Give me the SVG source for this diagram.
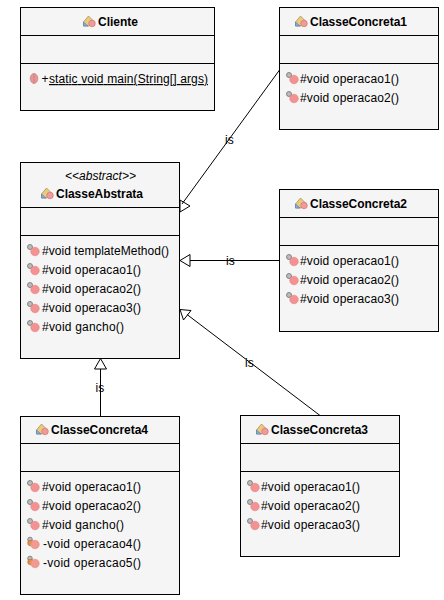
<svg xmlns="http://www.w3.org/2000/svg" width="444" height="600" viewBox="0 0 444 600">
<style>
text{font-family:"Liberation Sans",Arial,sans-serif;font-size:12px;fill:#000}
.t{font-weight:bold}
.a{font-style:italic}
.box{fill:#f5f5f5;stroke:#000;stroke-width:1}
.ln{stroke:#000;stroke-width:1;fill:none}
.h{fill:#fff;stroke:#000;stroke-width:1}
</style>
<defs>
<g id="ci">
<path d="M0.500 7L5.500 1L10.500 6L6 11H0.500Z" fill="#ecca7c" stroke="#9c8a58" stroke-width=".7"/>
<path d="M0.500 7L5 11H0.500Z" fill="#86aedc" stroke="#5f82b2" stroke-width=".7"/>
<circle cx="9" cy="8.500" r="3.300" fill="#f29a9a" stroke="#c07070" stroke-width=".6"/>
</g>
<g id="pr">
<circle cx="3" cy="3" r="2.500" fill="#bcbcbc" stroke="#707070" stroke-width=".8"/>
<circle cx="8" cy="7.500" r="4.300" fill="#f29292" stroke="#e27c7c" stroke-width=".5"/>
</g>
<g id="pv">
<circle cx="3" cy="2.500" r="2.300" fill="#bcbcbc" stroke="#707070" stroke-width=".8"/>
<circle cx="3.500" cy="6" r="2.800" fill="#e09048" stroke="#a86a30" stroke-width=".6"/>
<circle cx="8" cy="7.500" r="4.300" fill="#f29a92" stroke="#e28474" stroke-width=".5"/>
</g>
<g id="pu">
<ellipse cx="4" cy="5" rx="3.800" ry="5" fill="#e89696" stroke="#c07070" stroke-width=".6"/>
<path d="M4 0.500V9.500" stroke="#c07070" stroke-width=".6"/>
</g>
</defs>
<rect width="444" height="600" fill="#fff"/>
<g id="connectors">
<path class="h" d="M180 200L190 206L180 212Z"/>
<path class="ln" d="M279.500 70L182 204"/>
<path class="h" d="M190 254.500L180 260.500L190 266.500Z"/>
<path class="ln" d="M190 260.500H279.500"/>
<path class="h" d="M180 309.500L191 310.500L183.500 320Z"/>
<path class="ln" d="M187 314.500L320 415.500"/>
<path class="h" d="M100.500 358.500L106.500 369H94.500Z"/>
<path class="ln" d="M100.500 369V416"/>
<text x="225" y="144">is</text>
<text x="226" y="265">is</text>
<text x="245" y="367">is</text>
<text x="95.500" y="392">is</text>
</g>
<g id="Cliente">
<rect class="box" x="20.500" y="7.500" width="194" height="103"/>
<path class="ln" d="M20.500 35.500H214.500M20.500 63.500H214.500"/>
<use href="#ci" x="83" y="15"/>
<text class="t" x="98" y="26">Cliente</text>
<use href="#pu" x="30" y="73.500"/>
<text x="41.500" y="83">+</text>
<text x="49" y="83" text-decoration="underline" textLength="159" lengthAdjust="spacing">static void main(String[] args)</text>
</g>
<g id="ClasseConcreta1">
<rect class="box" x="279.500" y="7.500" width="159" height="122"/>
<path class="ln" d="M279.500 35.500H438.500M279.500 63.500H438.500"/>
<use href="#ci" x="295" y="15"/>
<text class="t" x="310" y="26" textLength="97">ClasseConcreta1</text>
<use href="#pr" x="286" y="72"/>
<text x="300" y="83" textLength="99">#void operacao1()</text>
<use href="#pr" x="286" y="91"/>
<text x="300" y="102" textLength="99">#void operacao2()</text>
</g>
<g id="ClasseAbstrata">
<rect class="box" x="20.500" y="162.500" width="159" height="196"/>
<path class="ln" d="M20.500 207.500H179.500M20.500 235.500H179.500"/>
<text class="a" x="65" y="180" textLength="71">&lt;&lt;abstract&gt;&gt;</text>
<use href="#ci" x="41" y="187"/>
<text class="t" x="56" y="198" textLength="87">ClasseAbstrata</text>
<use href="#pr" x="27" y="244"/>
<text x="42" y="255" textLength="127">#void templateMethod()</text>
<use href="#pr" x="27" y="263"/>
<text x="42" y="274" textLength="99">#void operacao1()</text>
<use href="#pr" x="27" y="282"/>
<text x="42" y="293" textLength="99">#void operacao2()</text>
<use href="#pr" x="27" y="301"/>
<text x="42" y="312" textLength="99">#void operacao3()</text>
<use href="#pr" x="27" y="320"/>
<text x="42" y="331" textLength="82">#void gancho()</text>
</g>
<g id="ClasseConcreta2">
<rect class="box" x="279.500" y="189.500" width="159" height="142"/>
<path class="ln" d="M279.500 217.500H438.500M279.500 245.500H438.500"/>
<use href="#ci" x="295" y="197"/>
<text class="t" x="310" y="208" textLength="97">ClasseConcreta2</text>
<use href="#pr" x="286" y="254"/>
<text x="300" y="265" textLength="99">#void operacao1()</text>
<use href="#pr" x="286" y="273"/>
<text x="300" y="284" textLength="99">#void operacao2()</text>
<use href="#pr" x="286" y="292"/>
<text x="300" y="303" textLength="99">#void operacao3()</text>
</g>
<g id="ClasseConcreta4">
<rect class="box" x="20.500" y="416.500" width="159" height="178"/>
<path class="ln" d="M20.500 443.500H179.500M20.500 471.500H179.500"/>
<use href="#ci" x="36" y="423"/>
<text class="t" x="51" y="434" textLength="97">ClasseConcreta4</text>
<use href="#pr" x="27" y="480"/>
<text x="42" y="491" textLength="99">#void operacao1()</text>
<use href="#pr" x="27" y="499"/>
<text x="42" y="510" textLength="99">#void operacao2()</text>
<use href="#pr" x="27" y="518"/>
<text x="42" y="529" textLength="82">#void gancho()</text>
<use href="#pv" x="27" y="537"/>
<text x="43" y="548" textLength="98">-void operacao4()</text>
<use href="#pv" x="27" y="556"/>
<text x="43" y="567" textLength="98">-void operacao5()</text>
</g>
<g id="ClasseConcreta3">
<rect class="box" x="240.500" y="415.500" width="159" height="141"/>
<path class="ln" d="M240.500 443.500H399.500M240.500 471.500H399.500"/>
<use href="#ci" x="256" y="423"/>
<text class="t" x="271" y="434" textLength="97">ClasseConcreta3</text>
<use href="#pr" x="247" y="480"/>
<text x="261" y="491" textLength="99">#void operacao1()</text>
<use href="#pr" x="247" y="499"/>
<text x="261" y="510" textLength="99">#void operacao2()</text>
<use href="#pr" x="247" y="518"/>
<text x="261" y="529" textLength="99">#void operacao3()</text>
</g>
</svg>
